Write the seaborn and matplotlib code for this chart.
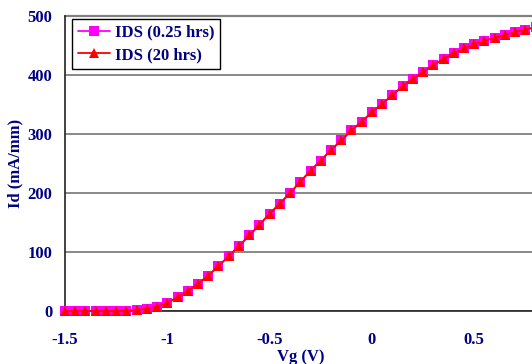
import matplotlib
matplotlib.use("Agg")
import matplotlib.pyplot as plt
import seaborn as sns
import pandas as pd

vg = [-1.5, -1.45, -1.4, -1.35, -1.3, -1.25, -1.2, -1.15, -1.1, -1.05,
      -1.0, -0.95, -0.9, -0.85, -0.8, -0.75, -0.7, -0.65, -0.6, -0.55,
      -0.5, -0.45, -0.4, -0.35, -0.3, -0.25, -0.2, -0.15, -0.1, -0.05,
      0.0, 0.05, 0.1, 0.15, 0.2, 0.25, 0.3, 0.35, 0.4, 0.45,
      0.5, 0.55, 0.6, 0.65, 0.7, 0.75, 0.8]
ids_025 = [0, 0, 0, 0, 0, 0, 0.5, 1.5, 4, 7.5,
           14, 23, 34, 46, 60, 76, 93, 110, 128, 146,
           165, 182, 200, 219, 238, 255, 273, 289, 306, 321,
           337, 351, 366, 381, 394, 405, 417, 427, 437, 445,
           452, 458, 463, 468, 473, 477, 481]
ids_20 = [0, 0, 0, 0, 0, 0, 0.5, 1.5, 4, 7.5,
          14, 23, 34, 46, 60, 76, 93, 110, 128, 146,
          165, 182, 200, 219, 238, 255, 273, 289, 306, 321,
          337, 351, 366, 381, 394, 405, 417, 427, 437, 445,
          452, 458, 463, 468, 473, 477, 481]
series_labels = ["IDS (0.25 hrs)", "IDS (20 hrs)"]
xticks = [-1.5, -1.0, -0.5, 0.0, 0.5]
xtick_labels = ["-1.5", "-1", "-0.5", "0", "0.5"]
yticks = [0, 100, 200, 300, 400, 500]

sns.set_style("white")
plt.rcParams['font.family'] = ['Liberation Serif', 'DejaVu Serif']
plt.rcParams['font.weight'] = 'bold'

navy = "#000080"
fs = 12
W, H = 532, 364
fig = plt.figure(figsize=(W / 100, H / 100), dpi=100)
left, right, top, bottom = 65, 535.6, 16, 311
ax = fig.add_axes([left / W, (H - bottom) / H, (right - left) / W, (bottom - top) / H])

df1 = pd.DataFrame({"Vg": vg, "Id": ids_025})
df2 = pd.DataFrame({"Vg": vg, "Id": ids_20})

sns.lineplot(data=df1, x="Vg", y="Id", ax=ax, color="#FF00FF", marker="s",
             markersize=7, markeredgewidth=0, linewidth=1.3,
             label=series_labels[0], zorder=3, clip_on=False)
sns.lineplot(data=df2, x="Vg", y="Id", ax=ax, color="#FF0000", marker="^",
             markersize=7.8, markeredgewidth=0, linewidth=1.3,
             label=series_labels[1], zorder=4, clip_on=False)

ax.set_xlim(-1.5, 0.8)
ax.set_ylim(0, 500)
ax.set_xticks(xticks)
ax.set_xticklabels(xtick_labels)
ax.set_yticks(yticks)
ax.yaxis.grid(True, color="#808080", linewidth=1.3)
ax.set_axisbelow(True)

for s in ["top", "right"]:
    ax.spines[s].set_visible(False)
ax.axhline(500, color="#808080", linewidth=1.6, zorder=1, clip_on=False)
ax.spines["left"].set_color("#222222")
ax.spines["left"].set_linewidth(1.2)
ax.spines["bottom"].set_color("#222222")
ax.spines["bottom"].set_linewidth(1.2)

ax.tick_params(axis="x", direction="inout", length=6, width=1, color="#222222",
               pad=12, labelsize=fs, labelcolor=navy)
ax.tick_params(axis="y", direction="in", length=4, width=1, color="#222222",
               pad=9, labelsize=fs, labelcolor=navy)
for lab in ax.get_xticklabels() + ax.get_yticklabels():
    lab.set_fontweight("bold")

ax.set_xlabel("Vg (V)", fontsize=fs, fontweight="bold", color=navy, labelpad=1)
ax.set_ylabel("Id (mA/mm)", fontsize=fs, fontweight="bold", color=navy, labelpad=3)

leg = ax.legend(loc="upper left", bbox_to_anchor=(0.015, 0.99), borderaxespad=0,
                frameon=True, fancybox=False, edgecolor="black", framealpha=1,
                prop={"family": "Liberation Serif", "weight": "bold", "size": fs},
                handlelength=1.9, handletextpad=0.3, labelspacing=0.38,
                borderpad=0.35)
leg.get_frame().set_linewidth(1.0)
for t in leg.get_texts():
    t.set_color(navy)

fig.savefig("out.png", dpi=100)
